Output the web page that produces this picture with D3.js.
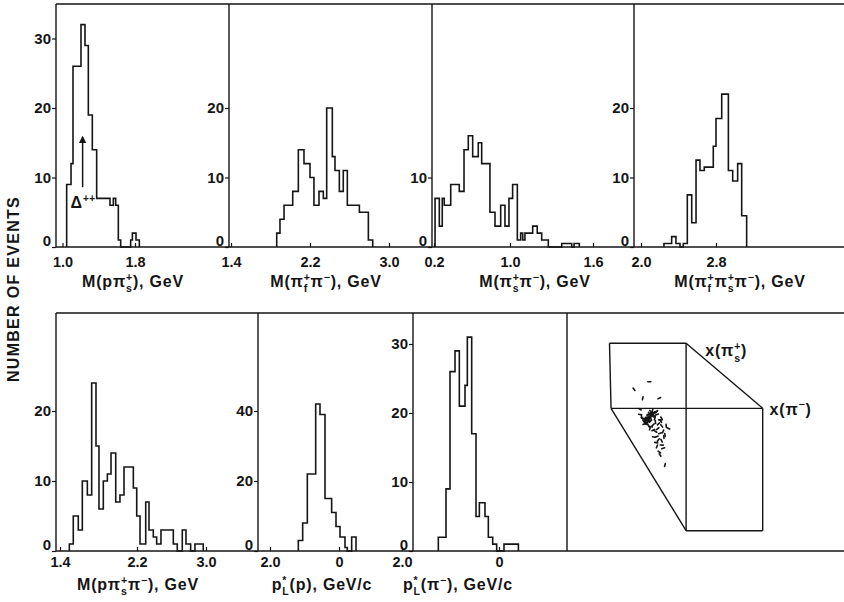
<!DOCTYPE html>
<html>
<head>
<meta charset="utf-8">
<script src="https://cdn.jsdelivr.net/npm/d3@7"></script>
<style>
  html, body { margin: 0; padding: 0; background: #ffffff; }
  svg text { font-family: "Liberation Sans", Arial, sans-serif; font-weight: bold; fill: #151515; }
</style>
</head>
<body>
<svg id="fig" width="844" height="602"></svg>
<script>
// ---------------- data: bin edges (GeV or GeV/c) and event counts ----------------
const p1Edges  = [1.046,1.094,1.116,1.204,1.248,1.285,1.329,1.377,1.524,1.561,1.587,1.616,1.642,1.752,1.771,1.811,1.848];
const p1Counts = [9,12,26,32,29,19,14,7,6,7,6,1,0,1,2,1];

const p2Edges  = [1.863,1.896,1.937,2.025,2.082,2.139,2.2,2.24,2.291,2.335,2.369,2.426,2.453,2.497,2.537,2.578,2.7,2.791,2.835];
const p2Counts = [2,4,6,8,14,12,10,6,8,7,20,13,11,8,11,6,5,1];

const p3Edges  = [0.211,0.256,0.287,0.308,0.376,0.466,0.516,0.561,0.607,0.666,0.702,0.789,0.842,0.902,0.947,0.989,1.019,1.053,1.077,1.092,1.108,1.164,1.197,1.229,1.277,1.374,1.446,1.463,1.501];
const p3Counts = [7,3,7,6,9,8,14,16,13,15,12,5,3,6,3,7,9,1,2,1,2,3,2,1,0,0.5,0,0.5];

const p4Edges  = [2.245,2.327,2.373,2.416,2.451,2.494,2.541,2.587,2.629,2.675,2.771,2.8,2.861,2.932,2.978,3.031,3.074,3.127];
const p4Counts = [0.5,1.5,0.5,0,0.5,7.5,3.5,12.5,11,11.5,14.5,18.5,22,11,9.5,12,4.5];

const p5Edges  = [1.497,1.538,1.590,1.632,1.684,1.729,1.774,1.805,1.850,1.892,1.930,1.979,2.023,2.065,2.162,2.197,2.235,2.301,2.339,2.389,2.428,2.478,2.621,2.667,2.725,2.768,2.822,2.872,2.968];
const p5Counts = [1,5,3,10,8,24,15,6,10,11,14,7,8,12,9,5,1,7,3,2,1,3,1,0,3,1,0,1];

const p6Edges  = [-1.179,-1.053,-0.918,-0.676,-0.551,-0.406,-0.213,-0.087,0.029,0.174,0.241,0.367,0.493];
const p6Counts = [3,8,22,42,39,15,11,7,4,1,0,4];

const p7Edges  = [-1.251,-1.093,-1.010,-0.907,-0.818,-0.701,-0.653,-0.563,-0.474,-0.405,-0.289,-0.220,-0.130,-0.048,0.103,0.40];
const p7Counts = [2,9,26,29,21,24,31,17,5,7,5,2,1,0,1];

// tick values and their printed labels
const p1XTicks = [1.0, 1.8],        p1XLabels = ["1.0", "1.8"];
const p2XTicks = [1.4, 2.2, 3.0],   p2XLabels = ["1.4", "2.2", "3.0"];
const p3XTicks = [0.2, 1.0, 1.6],   p3XLabels = ["0.2", "1.0", "1.6"];
const p4XTicks = [2.0, 2.8],        p4XLabels = ["2.0", "2.8"];
const p5XTicks = [1.4, 2.2, 3.0],   p5XLabels = ["1.4", "2.2", "3.0"];
const p6XTicks = [-2.0, 0],         p6XLabels = ["2.0", "0"];
const p7XTicks = [-2.0, 0],         p7XLabels = ["2.0", "0"];

const p1YTicks = [0, 10, 20, 30];
const p2YTicks = [0, 10, 20];
const p3YTicks = [0, 10];
const p4YTicks = [0, 10, 20];
const p5YTicks = [0, 10, 20];
const p6YTicks = [0, 20, 40];
const p7YTicks = [0, 10, 20, 30];

// axis titles: strings, or {sup, sub} for stacked indices
const p1Title = ["M(pπ", {sup: "+", sub: "s"}, "), GeV"];
const p2Title = ["M(π", {sup: "+", sub: "f"}, "π", {sup: "−"}, "), GeV"];
const p3Title = ["M(π", {sup: "+", sub: "s"}, "π", {sup: "−"}, "), GeV"];
const p4Title = ["M(π", {sup: "+", sub: "f"}, "π", {sup: "+", sub: "s"}, "π", {sup: "−"}, "), GeV"];
const p5Title = ["M(pπ", {sup: "+", sub: "s"}, "π", {sup: "−"}, "), GeV"];
const p6Title = ["p", {sup: "*", sub: "L"}, "(p), GeV/c"];
const p7Title = ["p", {sup: "*", sub: "L"}, "(π", {sup: "−"}, "), GeV/c"];
const yTitle = "NUMBER OF EVENTS";

// Δ++ marker in the first histogram (GeV, events)
const deltaArrow = {x: 1.222, from: 8.6, to: 15.8};
const deltaLabel = {x: 1.088, y: 5.6, text: "Δ", sup: "++"};

// x(π+s) versus x(π−) plot: frame segments [u1, v1, u2, v2] in plot units
const dalitzSegments = [
  [0.00, 1.000, 0.50, 1.000],
  [0.00, 1.000, 0.01, 0.653],
  [0.50, 1.000, 0.50, 0.000],
  [0.50, 1.000, 1.00, 0.653],
  [0.01, 0.653, 1.00, 0.653],
  [1.00, 0.653, 1.00, 0.000],
  [0.50, 0.000, 1.00, 0.000],
  [0.01, 0.653, 0.50, 0.000]
];
// events (u = along x(π−) edge, v = up the x(π+s) edge)
const dalitzU = [0.260,0.160,0.217,0.325,0.199,0.210,0.308,0.330,0.341,0.264,0.286,0.384,0.362,0.319,0.341,0.330,0.362,0.308,
  0.285,0.275,0.265,0.255,0.245,0.235,0.228,0.290,0.270,0.250,0.240,0.260,0.280,0.300,0.232,0.252,0.268,0.244,0.222,0.296,0.310,0.215,0.300,0.285,0.270,0.255,
  0.262,0.272,0.248,0.258,0.238,0.278,0.268,0.242,0.252,0.282,0.230,0.292,
  0.200,0.340,0.350,0.330,0.300,0.370,0.320,0.290,0.340,0.310,0.350,0.325,0.355,0.315,0.305,0.335];
const dalitzV = [0.795,0.755,0.707,0.707,0.648,0.608,0.635,0.591,0.559,0.546,0.537,0.546,0.511,0.484,0.457,0.404,0.351,0.502,
  0.630,0.620,0.610,0.600,0.590,0.580,0.570,0.615,0.600,0.580,0.570,0.625,0.640,0.635,0.595,0.612,0.585,0.605,0.585,0.600,0.620,0.600,0.580,0.565,0.555,0.560,
  0.605,0.615,0.595,0.590,0.600,0.625,0.635,0.575,0.620,0.610,0.590,0.630,
  0.620,0.600,0.530,0.520,0.530,0.560,0.570,0.500,0.480,0.450,0.440,0.420,0.500,0.545,0.470,0.585];
const dalitzLabelU = ["x(π", {sup: "+", sub: "s"}, ")"];
const dalitzLabelV = ["x(π", {sup: "−"}, ")"];

// ---------------- layout ----------------
const svg = d3.select("#fig");
const INK = "#151515";
const TICK_FS = 14.5, TITLE_FS = 16;

const rows = {
  top:    {yTop: 4,   base: 247, xs: [56, 229, 432, 634], right: 844, tickPad: 10, titleY: 287},
  bottom: {yTop: 313, base: 551, xs: [56, 258, 413, 567], right: 844, tickPad: 6,  titleY: 590}
};

const panels = [
  {row: "top", axisX: 56,  edges: p1Edges, counts: p1Counts, xDom: [1.0, 1.8], xRng: [62.5, 135],
   yMax: 30, yMaxPx: 38.5, yTicks: p1YTicks, xTicks: p1XTicks, xLabels: p1XLabels, title: p1Title, titleX: 133},
  {row: "top", axisX: 229, edges: p2Edges, counts: p2Counts, xDom: [1.4, 3.0], xRng: [231, 389],
   yMax: 30, yMaxPx: 38.5, yTicks: p2YTicks, xTicks: p2XTicks, xLabels: p2XLabels, title: p2Title, titleX: 326},
  {row: "top", axisX: 432, edges: p3Edges, counts: p3Counts, xDom: [0.2, 1.0, 1.6], xRng: [434, 510, 593],
   yMax: 30, yMaxPx: 38.5, yTicks: p3YTicks, xTicks: p3XTicks, xLabels: p3XLabels, title: p3Title, titleX: 535},
  {row: "top", axisX: 634, edges: p4Edges, counts: p4Counts, xDom: [2.0, 2.8], xRng: [641, 716],
   yMax: 30, yMaxPx: 38.5, yTicks: p4YTicks, xTicks: p4XTicks, xLabels: p4XLabels, title: p4Title, titleX: 740},
  {row: "bottom", axisX: 56,  edges: p5Edges, counts: p5Counts, xDom: [1.4, 2.2, 3.0], xRng: [60, 137, 206],
   yMax: 20, yMaxPx: 411, yTicks: p5YTicks, xTicks: p5XTicks, xLabels: p5XLabels, title: p5Title, titleX: 138},
  {row: "bottom", axisX: 258, edges: p6Edges, counts: p6Counts, xDom: [-2.0, 0], xRng: [270, 339],
   yMax: 40, yMaxPx: 411, yTicks: p6YTicks, xTicks: p6XTicks, xLabels: p6XLabels, title: p6Title, titleX: 322},
  {row: "bottom", axisX: 413, edges: p7Edges, counts: p7Counts, xDom: [-2.0, 0], xRng: [402, 499],
   yMax: 30, yMaxPx: 344, yTicks: p7YTicks, xTicks: p7XTicks, xLabels: p7XLabels, title: p7Title, titleX: 458}
];

// text with stacked superscript / subscript indices
function richText(sel, parts, fs) {
  const t = sel.append("text").attr("font-size", fs).attr("letter-spacing", 0.8);
  let off = 0, pendDx = 0;
  parts.forEach(pt => {
    if (typeof pt === "string") {
      t.append("tspan").attr("dx", pendDx).attr("dy", -off).text(pt);
      off = 0; pendDx = 0;
    } else {
      const small = fs * 0.66;
      let wSup = 0;
      if (pt.sup) {
        const s = t.append("tspan").attr("dx", pendDx).attr("dy", -fs * 0.38 - off)
          .attr("font-size", small).text(pt.sup);
        off = -fs * 0.38; pendDx = 0;
        wSup = s.node().getComputedTextLength();
      }
      if (pt.sub) {
        const s = t.append("tspan").attr("dx", pt.sup ? -wSup : pendDx).attr("dy", fs * 0.32 - off)
          .attr("font-size", small).text(pt.sub);
        off = fs * 0.32;
        pendDx = Math.max(0, wSup - s.node().getComputedTextLength());
      }
    }
  });
  return t;
}

// ---------------- frames ----------------
const frame = svg.append("g").attr("stroke", INK).attr("stroke-width", 1.4).attr("fill", "none");
Object.values(rows).forEach(r => {
  frame.append("line").attr("x1", r.xs[0]).attr("x2", r.right).attr("y1", r.yTop).attr("y2", r.yTop);
  frame.append("line").attr("x1", r.xs[0]).attr("x2", r.right).attr("y1", r.base).attr("y2", r.base);
  r.xs.forEach(x => frame.append("line").attr("x1", x).attr("x2", x).attr("y1", r.yTop).attr("y2", r.base));
});

// ---------------- histograms ----------------
panels.forEach(p => {
  const r = rows[p.row];
  const x = d3.scaleLinear().domain(p.xDom).range(p.xRng);
  const y = d3.scaleLinear().domain([0, p.yMax]).range([r.base, p.yMaxPx]);
  p.x = x; p.y = y;
  const g = svg.append("g");

  const pts = [[p.edges[0], 0]];
  p.counts.forEach((c, i) => { pts.push([p.edges[i], c], [p.edges[i + 1], c]); });
  pts.push([p.edges[p.edges.length - 1], 0]);
  g.append("path")
    .attr("d", d3.line().x(d => x(d[0])).y(d => y(d[1]))(pts))
    .attr("fill", "none").attr("stroke", INK).attr("stroke-width", 1.6)
    .attr("stroke-linejoin", "miter");

  const ya = g.append("g").attr("transform", `translate(${p.axisX},0)`)
    .call(d3.axisLeft(y).tickValues(p.yTicks).tickSize(4).tickPadding(1).tickFormat(d3.format("d")));
  ya.select(".domain").remove();
  ya.selectAll("line").attr("stroke", INK).attr("stroke-width", 1.2);
  ya.selectAll("text").attr("font-size", 15).attr("font-family", null).attr("fill", INK)
    .attr("dy", d => d === 0 ? "-0.08em" : "0.32em");   // the zero sits just above the base line

  const xa = g.append("g").attr("transform", `translate(0,${r.base})`)
    .call(d3.axisBottom(x).tickValues(p.xTicks).tickSizeInner(-4).tickSizeOuter(0)
      .tickPadding(r.tickPad).tickFormat((d, i) => p.xLabels[i]));
  xa.select(".domain").remove();
  xa.selectAll("line").attr("stroke", INK).attr("stroke-width", 1.2);
  xa.selectAll("text").attr("font-size", TICK_FS).attr("font-family", null).attr("fill", INK);

  richText(svg, p.title, TITLE_FS).attr("x", p.titleX).attr("y", r.titleY).attr("text-anchor", "middle");
});

// ---------------- Δ++ marker ----------------
const P1 = panels[0];
svg.append("defs").append("marker").attr("id", "arrowHead")
  .attr("viewBox", "0 0 10 10").attr("refX", 8).attr("refY", 5)
  .attr("markerWidth", 5).attr("markerHeight", 7).attr("orient", "auto")
  .append("path").attr("d", "M0,0 L10,5 L0,10 z").attr("fill", INK);
svg.append("line")
  .attr("x1", P1.x(deltaArrow.x)).attr("x2", P1.x(deltaArrow.x))
  .attr("y1", P1.y(deltaArrow.from)).attr("y2", P1.y(deltaArrow.to))
  .attr("stroke", INK).attr("stroke-width", 1.5).attr("marker-end", "url(#arrowHead)");
const dl = svg.append("text").attr("x", P1.x(deltaLabel.x)).attr("y", P1.y(deltaLabel.y))
  .attr("font-size", 16).attr("font-weight", "normal");
dl.append("tspan").text(deltaLabel.text);
dl.append("tspan").attr("dy", -6).attr("dx", 1).attr("font-size", 10).attr("letter-spacing", 0.5).text(deltaLabel.sup);

// ---------------- x(π+s) vs x(π−) plot ----------------
const du = d3.scaleLinear().domain([0, 1]).range([609.5, 762.7]);
const dv = d3.scaleLinear().domain([0, 1]).range([530.7, 343.3]);
const dg = svg.append("g");
dg.selectAll("line.seg").data(dalitzSegments).join("line").attr("class", "seg")
  .attr("x1", d => du(d[0])).attr("y1", d => dv(d[1]))
  .attr("x2", d => du(d[2])).attr("y2", d => dv(d[3]))
  .attr("stroke", INK).attr("stroke-width", 1.4);
// each event drawn as a short stroke
dg.selectAll("line.ev").data(dalitzU.map((u, i) => [u, dalitzV[i], i])).join("line").attr("class", "ev")
  .attr("x1", d => du(d[0]) - 1.5 * Math.cos(d[2] * 0.9)).attr("y1", d => dv(d[1]) - 1.5 * Math.sin(d[2] * 0.9))
  .attr("x2", d => du(d[0]) + 1.5 * Math.cos(d[2] * 0.9)).attr("y2", d => dv(d[1]) + 1.5 * Math.sin(d[2] * 0.9))
  .attr("stroke", INK).attr("stroke-width", 1.6).attr("stroke-linecap", "round");
richText(dg, dalitzLabelU, TITLE_FS).attr("x", du(0.625)).attr("y", dv(0.93));
richText(dg, dalitzLabelV, TITLE_FS).attr("x", du(1.045)).attr("y", dv(0.62));

// ---------------- shared y title ----------------
svg.append("text").attr("transform", "translate(19,289) rotate(-90)")
  .attr("text-anchor", "middle").attr("font-size", 16).attr("letter-spacing", 1.3).text(yTitle);
</script>
</body>
</html>
